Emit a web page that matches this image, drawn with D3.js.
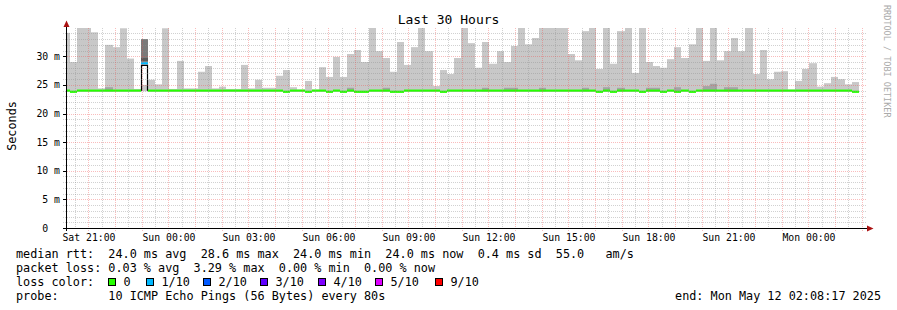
<!DOCTYPE html>
<html>
<head>
<meta charset="utf-8">
<script src="https://cdn.jsdelivr.net/npm/d3@7"></script>
<style>
  html, body { margin: 0; padding: 0; background: #fff; }
  text { font-family: "DejaVu Sans Mono", monospace; white-space: pre; }
</style>
</head>
<body>
<svg id="chart" width="897" height="310"></svg>
<script>
// 16 minute buckets (12 x 80s steps), bucket 0 starts Sat 20:00
var smokeTop = [34.1, 29.0, 35, 35, 34.2, 24.4, 32.0, 31.6, 34.9, 29.6,
                24.3, 33.0, 25.9, 25.1, 34.9, 24.3, 29.2, 24.4, 24.4, 27.3,
                28.3, 24.4, 24.7, 24.3, 24.3, 28.5, 24.4, 25.9, 24.5, 24.5,
                26.6, 27.6, 24.6, 24.2, 25.7, 24.2, 28.1, 26.4, 29.9, 26.4,
                30.4, 31.1, 29.0, 35, 30.9, 29.7, 27.3, 32.5, 28.5, 31.6,
                35, 30.9, 24.8, 27.6, 26.9, 29.7, 35, 32.3, 28.0, 32.5,
                28.7, 30.9, 29.0, 31.8, 35, 32.1, 33.2, 35, 35, 35,
                35, 30.4, 29.3, 34.4, 35, 27.8, 35, 28.7, 34.4, 35,
                27.1, 35, 29.0, 28.3, 28.0, 29.5, 31.6, 29.7, 32.1, 35,
                29.2, 35, 29.3, 30.9, 33.2, 30.9, 35, 26.9, 31.1, 26.0,
                27.3, 27.4, 24.2, 25.7, 27.8, 28.8, 24.7, 25.3, 26.4, 26.0,
                25.1, 25.5];

// darker smoke near the median (0 = none)
var smokeDark = [0, 0, 0, 0, 0, 0, 24.6, 0, 0, 0,
                 0, 0, 0, 0, 0, 0, 0, 0, 0, 0,
                 0, 0, 0, 0, 0, 0, 0, 0, 0, 0,
                 0, 0, 0, 0, 0, 0, 0, 0, 0, 0,
                 24.5, 0, 0, 0, 0, 24.5, 0, 0, 0, 0,
                 0, 0, 0, 0, 0, 0, 0, 0, 0, 24.5,
                 0, 0, 24.5, 24.5, 0, 0, 0, 24.5, 0, 0,
                 0, 0, 0, 24.5, 0, 0, 24.6, 0, 24.5, 0,
                 0, 0, 24.5, 24.5, 0, 0, 24.6, 0, 0, 0,
                 24.8, 25.2, 0, 24.6, 24.6, 0, 0, 0, 0, 0,
                 0, 0, 0, 0, 0, 0, 0, 0, 0, 0,
                 0, 0];

var median = [24.0, 23.8, 24.0, 24.0, 24.0, 24.0, 24.0, 24.0, 24.0, 24.0,
              24.0, 28.8, 24.0, 24.0, 24.0, 24.0, 24.0, 24.0, 24.0, 24.0,
              24.0, 24.0, 24.0, 24.0, 24.0, 24.0, 24.0, 24.0, 24.0, 24.0,
              24.0, 23.8, 24.0, 24.0, 23.8, 24.0, 24.0, 23.8, 24.0, 23.8,
              24.0, 23.8, 23.8, 24.0, 24.0, 24.0, 23.8, 23.8, 24.0, 24.0,
              24.0, 24.0, 24.0, 23.8, 24.0, 24.0, 24.0, 24.0, 24.0, 24.0,
              24.0, 24.0, 24.0, 24.0, 24.0, 24.0, 24.0, 24.0, 24.0, 24.0,
              24.0, 24.0, 24.0, 24.0, 24.0, 23.8, 24.0, 23.8, 24.0, 24.0,
              24.0, 23.8, 24.0, 24.0, 23.8, 24.0, 23.8, 24.0, 23.8, 24.0,
              24.0, 24.0, 24.0, 24.0, 24.0, 24.0, 24.0, 24.0, 24.0, 24.0,
              24.0, 24.0, 24.0, 24.0, 24.0, 24.0, 24.0, 24.0, 24.0, 24.0,
              24.0, 23.8];

// lost pings out of 10 per bucket
var lossCount = [];
for (var i = 0; i < smokeTop.length; i++) lossCount.push(0);
lossCount[11] = 1;

var yTicks = [0, 5, 10, 15, 20, 25, 30];

var lossLabels = ["0", "1/10", "2/10", "3/10", "4/10", "5/10", "9/10"],
    lossColors = ["#26ff00", "#00b8ff", "#0059ff", "#5e00ff", "#7e00ff", "#dd00ff", "#ff0000"],
    lossSteps = [0, 1, 2, 3, 4, 5, 9];

var legendLines = [
  "median rtt:  24.0 ms avg  28.6 ms max  24.0 ms min  24.0 ms now  0.4 ms sd  55.0   am/s",
  "packet loss: 0.03 % avg  3.29 % max  0.00 % min  0.00 % now",
  "loss color:",
  "probe:       10 ICMP Echo Pings (56 Bytes) every 80s"
];
var endLabel = "end: Mon May 12 02:08:17 2025";

var tEnd = new Date(2025, 4, 12, 2, 8, 17),
    tStart = d3.timeHour.offset(tEnd, -30),
    firstBucket = new Date(2025, 4, 10, 20, 0, 0);

var svg = d3.select("#chart"),
    plotLeft = 65.5, plotRight = 865.5, plotTop = 27.7, plotBottom = 228;

svg.append("rect").attr("width", 897).attr("height", 310).attr("fill", "#fff");

var x = d3.scaleTime().domain([tStart, tEnd]).range([plotLeft, plotRight]);
var y = d3.scaleLinear().domain([0, 35]).range([plotBottom, plotTop]);

svg.append("defs").append("clipPath").attr("id", "plot")
  .append("rect").attr("x", 66).attr("y", 28).attr("width", 800).attr("height", 200);

var buckets = smokeTop.map(function(v, i) {
  var t0 = d3.timeMinute.offset(firstBucket, 16 * i);
  return {
    x0: Math.round(x(t0)) + 1,
    x1: Math.round(x(d3.timeMinute.offset(t0, 16))) + 1,
    top: v, dark: smokeDark[i], med: median[i], loss: lossCount[i]
  };
});

var g = svg.append("g").attr("clip-path", "url(#plot)");

// smoke
g.selectAll(".smoke").data(buckets).enter().append("rect")
  .attr("x", function(d) { return d.x0; })
  .attr("width", function(d) { return d.x1 - d.x0; })
  .attr("y", function(d) { return y(d.top); })
  .attr("height", function(d) { return y(23.9) - y(d.top); })
  .attr("fill", "#c8c8c8");

g.selectAll(".dark").data(buckets.filter(function(d) { return d.dark > 0; })).enter().append("rect")
  .attr("x", function(d) { return d.x0; })
  .attr("width", function(d) { return d.x1 - d.x0; })
  .attr("y", function(d) { return y(d.dark); })
  .attr("height", function(d) { return y(23.9) - y(d.dark); })
  .attr("fill", "#a4a4a4");

// buckets with loss: darker smoke and an outlined box under the median
var lossB = buckets.filter(function(d) { return d.loss > 0; });
g.selectAll(".lsmoke").data(lossB).enter().append("rect")
  .attr("x", function(d) { return d.x0; })
  .attr("width", function(d) { return d.x1 - d.x0; })
  .attr("y", function(d) { return y(d.top); })
  .attr("height", function(d) { return y(d.med + 0.3) - y(d.top); })
  .attr("fill", "#7a7a7a");
g.selectAll(".lband").data(lossB).enter().append("rect")
  .attr("x", function(d) { return d.x0; })
  .attr("width", function(d) { return d.x1 - d.x0; })
  .attr("y", function(d) { return y(d.med + 0.9); })
  .attr("height", function(d) { return y(d.med + 0.3) - y(d.med + 0.9); })
  .attr("fill", "#5a5a5a");
g.selectAll(".lbox").data(lossB).enter().append("rect")
  .attr("x", function(d) { return d.x0; })
  .attr("width", function(d) { return d.x1 - d.x0; })
  .attr("y", function(d) { return y(d.med - 0.4); })
  .attr("height", function(d) { return y(25.0) - y(d.med - 0.4); })
  .attr("fill", "#fff");
g.selectAll(".lline").data(lossB).enter().append("path")
  .attr("d", function(d) {
    return "M" + (d.x0 + 0.5) + "," + y(24) + "V" + y(d.med - 0.4) + "H" + (d.x1 - 0.5) + "V" + y(24);
  })
  .attr("fill", "none").attr("stroke", "#000").attr("stroke-width", 1.2);

// grid on top of the data
var grid = svg.append("g").attr("shape-rendering", "crispEdges");
var minorY = d3.range(1, 36).filter(function(v) { return v % 5 !== 0; });
grid.selectAll(".ymin").data(minorY).enter().append("line")
  .attr("x1", 63).attr("x2", 866)
  .attr("y1", function(d) { return Math.round(y(d)) + 0.5; })
  .attr("y2", function(d) { return Math.round(y(d)) + 0.5; })
  .attr("stroke", "rgba(140,140,140,0.4)").attr("stroke-dasharray", "1,1");
grid.selectAll(".xmin").data(d3.timeMinute.every(30).range(tStart, tEnd).filter(function(t) { return t.getMinutes() === 30; }))
  .enter().append("line")
  .attr("x1", function(d) { return Math.round(x(d)) + 0.5; })
  .attr("x2", function(d) { return Math.round(x(d)) + 0.5; })
  .attr("y1", 28).attr("y2", 228)
  .attr("stroke", "rgba(140,140,140,0.4)").attr("stroke-dasharray", "1,1");
grid.selectAll(".ymaj").data(yTicks.slice(1)).enter().append("line")
  .attr("x1", 63).attr("x2", 866)
  .attr("y1", function(d) { return Math.round(y(d)) + 0.5; })
  .attr("y2", function(d) { return Math.round(y(d)) + 0.5; })
  .attr("stroke", "rgba(240,80,80,0.38)").attr("stroke-dasharray", "1,1");
grid.selectAll(".xmaj").data(d3.timeHour.every(1).range(tStart, tEnd)).enter().append("line")
  .attr("x1", function(d) { return Math.round(x(d)) + 0.5; })
  .attr("x2", function(d) { return Math.round(x(d)) + 0.5; })
  .attr("y1", 28).attr("y2", 231)
  .attr("stroke", "rgba(240,80,80,0.38)").attr("stroke-dasharray", "1,1");

// median line, coloured by loss
g.selectAll(".med").data(buckets).enter().append("line")
  .attr("x1", function(d) { return d.x0; })
  .attr("x2", function(d) { return d.x1; })
  .attr("y1", function(d) { return y(d.med); })
  .attr("y2", function(d) { return y(d.med); })
  .attr("stroke", function(d) {
    var k = lossSteps.indexOf(d.loss);
    return lossColors[k < 0 ? lossColors.length - 1 : k];
  })
  .attr("stroke-width", 2.2);

// axes
var axes = svg.append("g").attr("shape-rendering", "crispEdges");
axes.append("line").attr("x1", 66.5).attr("x2", 66.5).attr("y1", 25).attr("y2", 231)
  .attr("stroke", "#000");
axes.append("line").attr("x1", 63).attr("x2", 869).attr("y1", 228.5).attr("y2", 228.5)
  .attr("stroke", "#000");
svg.append("path").attr("d", "M63.5,27L66.5,20.5L69.5,27Z").attr("fill", "#a11");
svg.append("path").attr("d", "M867,225.5L873.5,228.5L867,231.5Z").attr("fill", "#a11");
axes.selectAll(".ytick").data(yTicks).enter().append("line")
  .attr("x1", 63).attr("x2", 66)
  .attr("y1", function(d) { return Math.round(y(d)) + 0.5; })
  .attr("y2", function(d) { return Math.round(y(d)) + 0.5; })
  .attr("stroke", "#000");

svg.selectAll(".ylab").data(yTicks).enter().append("text")
  .attr("x", 60).attr("y", function(d) { return y(d) + 3.5; })
  .attr("text-anchor", "end").attr("font-size", "9.8px")
  .text(function(d) { return d === 0 ? "0  " : d + " m"; });

var fmt = d3.timeFormat("%a %H:%M");
svg.selectAll(".xlab").data(d3.timeHour.every(3).range(tStart, tEnd)).enter().append("text")
  .attr("x", function(d) { return x(d) + 0.5; }).attr("y", 241)
  .attr("text-anchor", "middle").attr("font-size", "9.8px")
  .text(function(d) { return fmt(d); });

svg.append("text").attr("x", 448.5).attr("y", 24).attr("text-anchor", "middle")
  .attr("font-size", "13px").text("Last 30 Hours");

svg.append("text").attr("transform", "translate(15.5,126) rotate(-90)")
  .attr("text-anchor", "middle").attr("font-size", "11.8px").text("Seconds");

svg.append("text").attr("transform", "translate(884,5) rotate(90)")
  .attr("font-size", "8.5px").attr("fill", "#aaa").text("RRDTOOL / TOBI OETIKER");

// legend
svg.selectAll(".leg").data(legendLines).enter().append("text")
  .attr("x", 16).attr("y", function(d, i) { return 258 + 14 * i; })
  .attr("font-size", "11.8px").text(function(d) { return d; });

var swX = [108.5, 146.5, 203.5, 260.5, 318.5, 375.5, 435.5];
var sw = svg.selectAll(".sw").data(lossLabels).enter().append("g")
  .attr("transform", function(d, i) { return "translate(" + swX[i] + ",278.5)"; });
sw.append("rect").attr("width", 7).attr("height", 7)
  .attr("fill", function(d, i) { return lossColors[i]; })
  .attr("stroke", "#000").attr("shape-rendering", "crispEdges");
sw.append("text").attr("x", 15).attr("y", 7.5).attr("font-size", "11.8px")
  .text(function(d) { return d; });

svg.append("text").attr("x", 881).attr("y", 300).attr("text-anchor", "end")
  .attr("font-size", "11.8px").text(endLabel);
</script>
</body>
</html>
